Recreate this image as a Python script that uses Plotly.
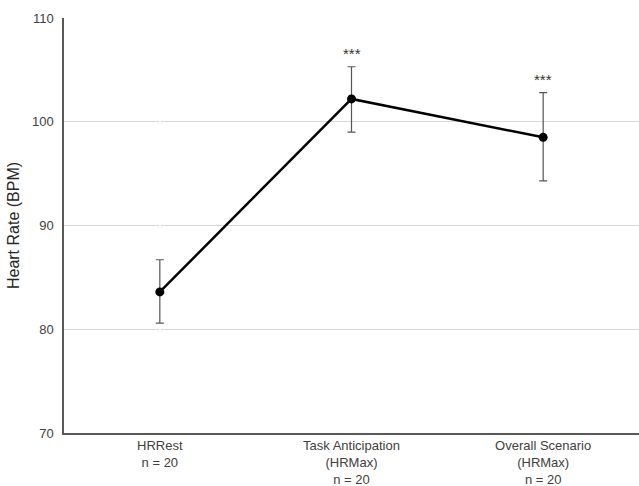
import plotly.graph_objects as go

categories = ["HRRest<br>n = 20", "Task Anticipation<br>(HRMax)<br>n = 20", "Overall Scenario<br>(HRMax)<br>n = 20"]
means = [83.6, 102.2, 98.5]
err_plus = [3.1, 3.1, 4.3]
err_minus = [3.0, 3.2, 4.2]
sig_labels = ["", "***", "***"]

fig = go.Figure()
fig.add_trace(go.Scatter(
    x=[0, 1, 2], y=means, mode="lines+markers",
    line=dict(color="black", width=2.5),
    marker=dict(color="black", size=9),
    error_y=dict(type="data", array=err_plus, arrayminus=err_minus,
                 color="#555555", thickness=1.2, width=4),
    showlegend=False,
))

for i, s in enumerate(sig_labels):
    if s:
        fig.add_annotation(x=i, y=means[i] + err_plus[i], text=s, showarrow=False,
                           yshift=13, font=dict(family="Liberation Sans, Arial", size=15, color="#333333"))

fig.update_layout(
    width=639, height=486,
    margin=dict(l=64, r=0, t=18, b=53),
    plot_bgcolor="white", paper_bgcolor="white",
    font=dict(family="Liberation Sans, Arial", color="#404040"),
)
fig.update_xaxes(
    tickmode="array", tickvals=[0, 1, 2], ticktext=categories,
    range=[-0.5, 2.5], showgrid=False, showline=True, linecolor="#595959", linewidth=1.5,
    ticks="", tickfont=dict(size=13, color="#404040"), automargin=False,
)
fig.update_yaxes(
    range=[70, 110], tickvals=[70, 80, 90, 100, 110], showgrid=True, gridcolor="#d9d9d9",
    gridwidth=1, showline=True, linecolor="#595959", linewidth=1.5, ticks="",
    tickfont=dict(size=13, color="#404040"), zeroline=False, ticklabelstandoff=6,
    automargin=False,
    title=dict(text="Heart Rate (BPM)", font=dict(size=16, color="#262626"), standoff=8),
)

fig.write_html("out.html", post_script="document.body.style.margin='0';",
               config={"displayModeBar": False})
